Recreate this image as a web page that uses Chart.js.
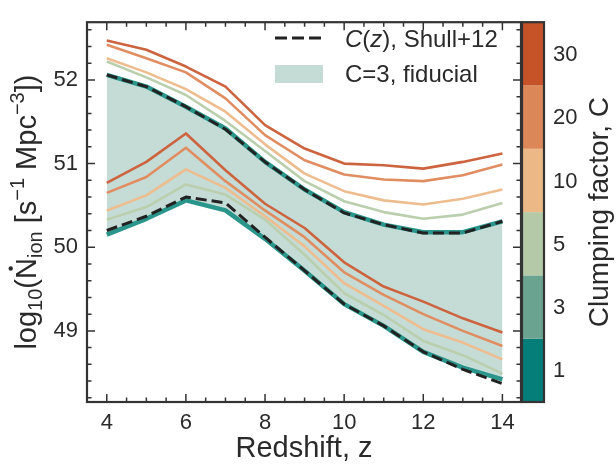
<!DOCTYPE html>
<html>
<head>
<meta charset="utf-8">
<script src="https://cdn.jsdelivr.net/npm/chart.js@4.4.0/dist/chart.umd.min.js"></script>
<style>
  html, body { margin: 0; padding: 0; background: #fff; }
</style>
</head>
<body>
<canvas id="chart" width="616" height="468"></canvas>
<script>
// redshift grid
const redshift = [4, 5, 6, 7, 8, 9, 10, 11, 12, 13, 14];

// upper bound of log10(Ndot_ion) for each clumping factor
const upperC30 = [52.47, 52.36, 52.16, 51.92, 51.46, 51.18, 51.00, 50.98, 50.94, 51.02, 51.12];
const upperC20 = [52.42, 52.26, 52.09, 51.78, 51.34, 51.04, 50.87, 50.81, 50.79, 50.86, 50.99];
const upperC10 = [52.26, 52.09, 51.89, 51.62, 51.23, 50.88, 50.67, 50.56, 50.51, 50.58, 50.69];
const upperC5  = [52.22, 52.03, 51.82, 51.51, 51.15, 50.79, 50.55, 50.42, 50.34, 50.39, 50.53];
const upperC3  = [52.06, 51.92, 51.68, 51.42, 51.02, 50.69, 50.42, 50.27, 50.18, 50.18, 50.31];
const upperShull = [52.06, 51.92, 51.68, 51.41, 51.02, 50.69, 50.41, 50.27, 50.17, 50.17, 50.31];

// lower bound
const lowerC30 = [50.77, 51.02, 51.36, 50.92, 50.52, 50.23, 49.82, 49.53, 49.35, 49.15, 48.98];
const lowerC20 = [50.65, 50.84, 51.19, 50.79, 50.44, 50.12, 49.70, 49.43, 49.20, 49.00, 48.82];
const lowerC10 = [50.44, 50.62, 50.93, 50.71, 50.37, 50.01, 49.57, 49.30, 49.02, 48.86, 48.66];
const lowerC5  = [50.33, 50.48, 50.75, 50.63, 50.33, 49.91, 49.45, 49.19, 48.88, 48.71, 48.49];
const lowerC3  = [50.15, 50.34, 50.56, 50.44, 50.10, 49.72, 49.32, 49.06, 48.75, 48.56, 48.42];
const lowerShull = [50.20, 50.37, 50.60, 50.53, 50.12, 49.72, 49.32, 49.06, 48.75, 48.54, 48.37];

// colorbar
const cbarLabels = ['1', '3', '5', '10', '20', '30'];
const cbarColors = ['#057d79', '#6ba391', '#b4c9a7', '#ebb886', '#dc8757', '#c65228'];

const xTicks = [4, 6, 8, 10, 12, 14];
const yTicks = [49, 50, 51, 52];

const lineColors = { 30: '#cc643f', 20: '#e08d62', 10: '#eebd8f', 5: '#bacfae' };
const tealLine = '#2a958a';
const bandFill = '#c5dbd6';
const textColor = '#2a2a2a';
const axisColor = '#333';
const FONT = '"Liberation Sans", Arial, Helvetica, sans-serif';

function pts(vals) {
    return redshift.map((z, i) => ({ x: z, y: vals[i] }));
}

function line(vals, color, extra) {
    return Object.assign({
        data: pts(vals),
        borderColor: color,
        borderWidth: 2.6,
        pointRadius: 0,
        fill: false,
        tension: 0,
        borderJoinStyle: 'round'
    }, extra || {});
}

const dashOpts = { borderWidth: 3, borderDash: [11, 5] };

const datasets = [
    line(upperShull, '#222', dashOpts),
    line(lowerShull, '#222', dashOpts),
    line(upperC30, lineColors[30]),
    line(lowerC30, lineColors[30]),
    line(upperC20, lineColors[20]),
    line(lowerC20, lineColors[20]),
    line(upperC10, lineColors[10]),
    line(lowerC10, lineColors[10]),
    line(upperC5, lineColors[5]),
    line(lowerC5, lineColors[5]),
    line(upperC3, tealLine, { borderWidth: 4.5, fill: '+1', backgroundColor: bandFill }),
    line(lowerC3, tealLine, { borderWidth: 4.5 })
];

// frame, inward ticks, colorbar, legend and axis titles
const decorations = {
    id: 'decorations',
    afterDraw(chart) {
        const { ctx, chartArea: { left, right, top, bottom }, scales: { x, y } } = chart;
        ctx.save();

        // ticks on all four sides
        ctx.strokeStyle = axisColor;
        ctx.lineWidth = 1.5;
        ctx.beginPath();
        for (let v = 3.5; v <= 14.5; v += 0.5) {
            const px = x.getPixelForValue(v);
            if (px < left + 2 || px > right - 2) continue;
            const len = xTicks.includes(v) ? 8 : 4.5;
            ctx.moveTo(px, bottom); ctx.lineTo(px, bottom - len);
            ctx.moveTo(px, top); ctx.lineTo(px, top + len);
        }
        for (let k = 241; k <= 264; k++) {
            const v = k / 5;
            const py = y.getPixelForValue(v);
            if (py < top + 2 || py > bottom - 2) continue;
            const len = (k % 5 === 0) ? 8 : 4.5;
            ctx.moveTo(left, py); ctx.lineTo(left + len, py);
            ctx.moveTo(right, py); ctx.lineTo(right - len, py);
        }
        ctx.stroke();

        // frame
        ctx.lineWidth = 2.2;
        ctx.strokeRect(left, top, right - left, bottom - top);

        // colorbar
        const cx0 = right + 1, cw = 22;
        const segH = (bottom - top) / cbarColors.length;
        cbarColors.forEach((c, i) => {
            const y1 = bottom - (i + 1) * segH;
            ctx.fillStyle = c;
            ctx.fillRect(cx0, y1, cw, segH);
        });
        ctx.strokeRect(cx0, top, cw, bottom - top);
        ctx.fillStyle = textColor;
        ctx.font = '22px ' + FONT;
        ctx.textAlign = 'left';
        ctx.textBaseline = 'middle';
        cbarLabels.forEach((t, i) => {
            ctx.fillText(t, cx0 + cw + 9, bottom - (i + 0.5) * segH + 1);
        });
        ctx.textBaseline = 'alphabetic';

        // colorbar title
        ctx.save();
        ctx.translate(608, (top + bottom) / 2);
        ctx.rotate(-Math.PI / 2);
        ctx.font = '28px ' + FONT;
        ctx.textAlign = 'center';
        ctx.fillText('Clumping factor, C', 0, 0);
        ctx.restore();

        // y title with sub/superscripts
        const big = 29, small = 20;
        const parts = [
            { t: 'log', s: big, dy: 0 },
            { t: '10', s: small, dy: 6 },
            { t: '(', s: big, dy: 0 },
            { t: 'N', s: big, dy: 0, dot: true },
            { t: 'ion', s: small, dy: 6 },
            { t: ' [s', s: big, dy: 0 },
            { t: '\u22121', s: small, dy: -12 },
            { t: ' Mpc', s: big, dy: 0 },
            { t: '\u22123', s: small, dy: -12 },
            { t: '])', s: big, dy: 0 }
        ];
        ctx.save();
        ctx.translate(36, (top + bottom) / 2);
        ctx.rotate(-Math.PI / 2);
        ctx.textAlign = 'left';
        let total = 0;
        parts.forEach(p => { ctx.font = p.s + 'px ' + FONT; p.w = ctx.measureText(p.t).width; total += p.w; });
        let cx = -total / 2;
        parts.forEach(p => {
            ctx.font = p.s + 'px ' + FONT;
            ctx.fillText(p.t, cx, p.dy);
            if (p.dot) {
                ctx.beginPath();
                ctx.arc(cx + p.w / 2, -big * 0.716 - 4.5, 2.2, 0, Math.PI * 2);
                ctx.fill();
            }
            cx += p.w;
        });
        ctx.restore();

        // x title
        ctx.font = '29px ' + FONT;
        ctx.textAlign = 'center';
        ctx.fillText('Redshift, z', (left + right) / 2, 457);

        // legend
        ctx.strokeStyle = '#222';
        ctx.lineWidth = 3;
        ctx.setLineDash([12, 5]);
        ctx.beginPath();
        ctx.moveTo(275, 38); ctx.lineTo(323, 38);
        ctx.stroke();
        ctx.setLineDash([]);
        ctx.fillStyle = bandFill;
        ctx.fillRect(275, 65, 48, 18);

        ctx.fillStyle = textColor;
        ctx.textAlign = 'left';
        const leg1 = [
            { t: 'C', it: true }, { t: '(' }, { t: 'z', it: true }, { t: '), Shull+12' }
        ];
        let lx = 345;
        leg1.forEach(p => {
            ctx.font = (p.it ? 'italic ' : '') + '24px ' + FONT;
            ctx.fillText(p.t, lx, 47);
            lx += ctx.measureText(p.t).width;
        });
        ctx.font = '24px ' + FONT;
        ctx.fillText('C=3, fiducial', 345, 82);

        ctx.restore();
    }
};

const config = {
    type: 'line',
    data: { datasets },
    options: {
        responsive: false,
        animation: false,
        layout: { padding: { top: 6, right: 95, left: 0, bottom: 0 } },
        plugins: {
            legend: { display: false },
            tooltip: { enabled: false },
            filler: { drawTime: 'beforeDatasetsDraw' }
        },
        scales: {
            x: {
                type: 'linear',
                min: 3.5,
                max: 14.47,
                afterFit(scale) { scale.height = 66; },
                afterBuildTicks(scale) { scale.ticks = xTicks.map(v => ({ value: v })); },
                grid: { display: true, drawOnChartArea: false, drawTicks: false, color: 'rgba(0,0,0,0)' },
                border: { display: false },
                ticks: { color: textColor, font: { size: 22, family: FONT }, padding: 8, maxRotation: 0 }
            },
            y: {
                type: 'linear',
                min: 48.15,
                max: 52.69,
                afterFit(scale) { scale.width = 87; },
                afterBuildTicks(scale) { scale.ticks = yTicks.map(v => ({ value: v })); },
                grid: { display: true, drawOnChartArea: false, drawTicks: false, color: 'rgba(0,0,0,0)' },
                border: { display: false },
                ticks: { color: textColor, font: { size: 22, family: FONT }, padding: 9 }
            }
        }
    },
    plugins: [decorations]
};

new Chart(document.getElementById('chart'), config);
</script>
</body>
</html>
